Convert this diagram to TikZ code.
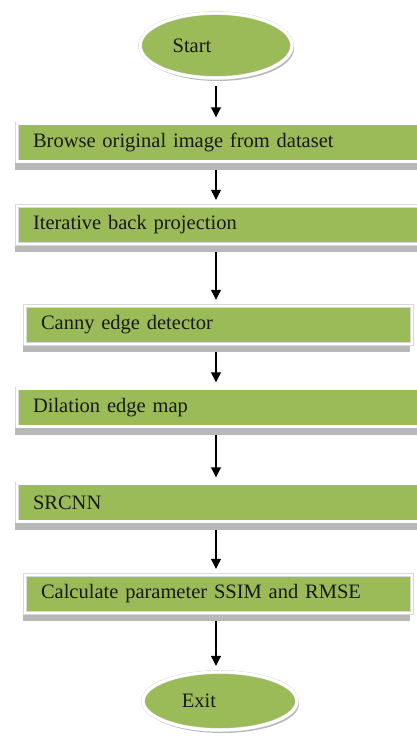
\documentclass[tikz,border=0pt]{standalone}
\usepackage{fontspec}
\setmainfont{Liberation Serif}
\usetikzlibrary{arrows.meta, shapes.geometric, shadows}
\definecolor{stagegreen}{HTML}{9BBB59}

\begin{document}
\begin{tikzpicture}[x=1pt, y=-1pt, font=\fontsize{20.5}{24}\selectfont,
	stage/.style={rectangle, fill=stagegreen, draw=black!15, double=white, double distance=2.5pt,
		minimum height=38pt, text width=#1, inner xsep=16pt, align=left, text=black!90,
		drop shadow={shadow xshift=-2pt, shadow yshift=-8pt, fill=black!28, opacity=1}},
	term/.style={ellipse, fill=stagegreen, draw=black!15, double=white, double distance=3pt,
		minimum width=152pt, minimum height=#1, text=black!90,
		drop shadow={shadow xshift=2pt, shadow yshift=-3pt, fill=black!28, opacity=1}},
	flow/.style={-{Triangle[width=10pt,length=10pt]}, line width=1.1pt, shorten <=8pt, shorten >=6pt}]
			\useasboundingbox (0,0) rectangle (417,742);
			\node[term=65pt] (start) at (216,45.5) {Start\hspace*{48pt}};
			\node[stage=376pt] (browse) at (221,142.5) {Browse original image from dataset};
			\node[stage=376pt] (ibp) at (221,225) {Iterative back projection};
			\node[stage=355pt] (canny) at (218.5,325) {Canny edge detector};
			\node[stage=376pt] (dilate) at (221,407.5) {Dilation edge map};
			\node[stage=376pt] (srcnn) at (221,502.5) {SRCNN};
			\node[stage=355pt] (calc) at (218.5,594) {Calculate parameter SSIM and RMSE};
			\node[term=58pt, minimum width=154pt] (exit) at (220,701) {Exit\hspace*{42pt}};
			\draw[flow] (start.south) -- (start.south |- browse.north);
			\draw[flow] (browse.south -| start) -- (ibp.north -| start);
			\draw[flow] (ibp.south -| start) -- (canny.north -| start);
			\draw[flow] (canny.south -| start) -- (dilate.north -| start);
			\draw[flow] (dilate.south -| start) -- (srcnn.north -| start);
			\draw[flow] (srcnn.south -| start) -- (calc.north -| start);
			\draw[flow] (calc.south -| start) -- (exit.north -| start);
		\end{tikzpicture}
\end{document}
